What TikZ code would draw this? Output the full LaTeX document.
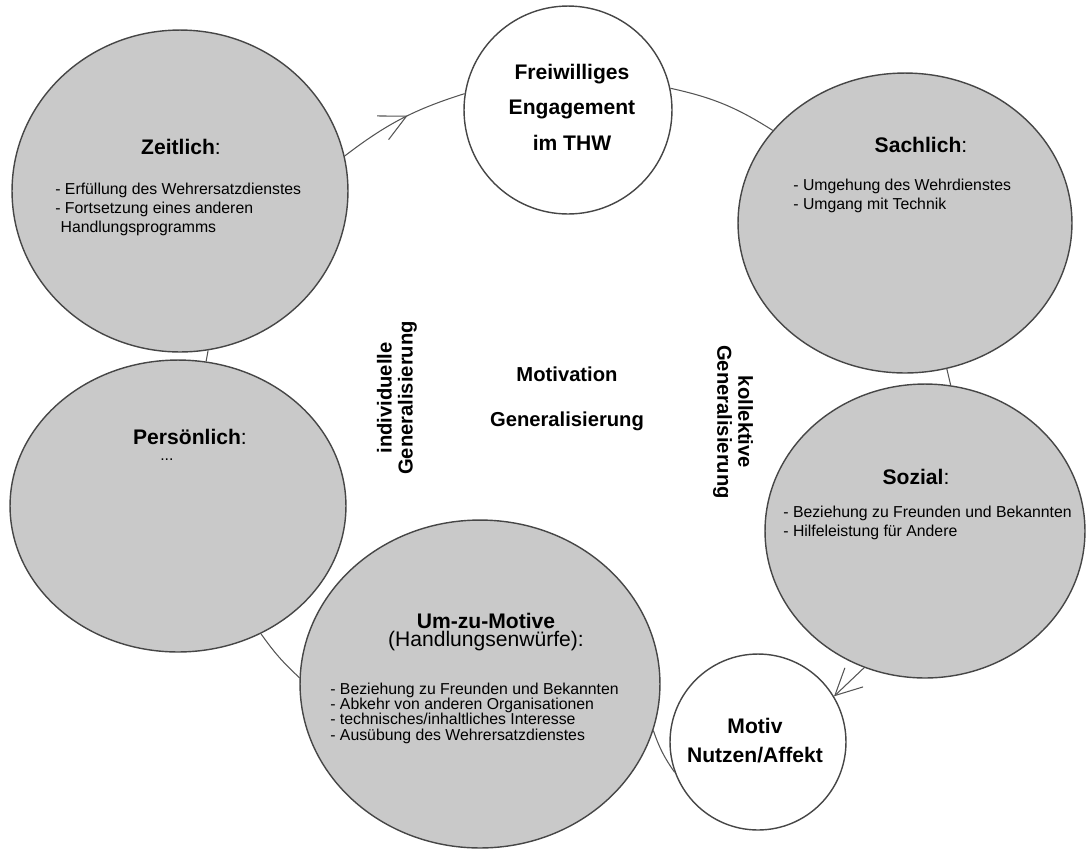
\documentclass[tikz,border=0pt]{standalone}
\usepackage{fontspec}
\setmainfont{Liberation Sans}
\usepackage{xcolor}
\usetikzlibrary{shapes,arrows.meta,positioning,calc,decorations.markings}
\definecolor{bubblegray}{RGB}{201,201,201}
\definecolor{edgegray}{RGB}{70,70,70}
\definecolor{ringgray}{RGB}{85,85,85}

\tikzset{
  bubble/.style={ellipse, draw=edgegray, fill=bubblegray, line width=0.8pt, inner sep=0pt},
  disc/.style={circle, draw=edgegray, fill=white, line width=0.8pt, inner sep=0pt},
  ring/.style={draw=ringgray, line width=0.6pt},
  barb/.style={-{Straight Barb[length=15pt,width=15pt]}},
  head/.style={font=\fontsize{12}{14}\selectfont, align=center},
  items/.style={font=\fontsize{9}{10.8}\selectfont, align=left, anchor=west, inner sep=0pt},
  bigtext/.style={font=\fontsize{11.5}{12}\selectfont\bfseries, align=center}
}

\begin{document}
\begin{tikzpicture}[x=0.02cm, y=-0.02cm]
    \useasboundingbox (0,0) rectangle (1086,850);

    % Grey bubbles
    \node[bubble, minimum width=6.72cm, minimum height=6.44cm] (zeit) at (180,191) {};
    \node[bubble, minimum width=6.68cm, minimum height=6.00cm] (sach) at (905,223) {};
    \node[bubble, minimum width=6.40cm, minimum height=5.88cm] (soz)  at (925,531) {};
    \node[bubble, minimum width=6.72cm, minimum height=5.84cm] (pers) at (178,506) {};
    \node[bubble, minimum width=7.20cm, minimum height=6.56cm] (umzu) at (480,684) {};
    % White circles
    \node[disc, minimum size=4.16cm] (frei)  at (568,110) {};
    \node[disc, minimum size=3.52cm] (motiv) at (758,742) {};

    % Ring between the bubbles
    \draw[ring, postaction={decorate},
          decoration={markings, mark=at position 0.55 with {\arrow{Straight Barb[length=15pt,width=15pt]}}}]
        (zeit.12) to[bend left=10] (frei.171);
    \draw[ring] (frei.12) to[bend left=10] (sach.145);
    \draw[ring] (sach.286) -- (soz.80);
    \draw[ring, barb] (soz.246) -- (motiv.31);
    \draw[ring] (motiv.200) to[bend left=8] (umzu.-15);
    \draw[ring] (umzu.178) to[bend left=6] (pers.303);
    \draw[ring] (pers.79) -- (zeit.280);

    % Texts in the circles
    \node[head, font=\fontsize{12}{20.2}\selectfont\bfseries] (freitxt) at (572,107)
        {Freiwilliges\\Engagement\\im THW};
    \node[head, font=\fontsize{12}{16.5}\selectfont\bfseries] (motivtxt) at (755,741)
        {Motiv\\Nutzen/Affekt};

    % Zeitlich
    \node[head] (zeitkopf) at (181,147) {\textbf{Zeitlich}:};
    \node[items] (zeitliste) at (55,209)
        {- Erfüllung des Wehrersatzdienstes\\
         - Fortsetzung eines anderen\\
         \hspace*{3pt}Handlungsprogramms};

    % Sachlich
    \node[head] (sachkopf) at (921,145) {\textbf{Sachlich}:};
    \node[items] (sachliste) at (793,196)
        {- Umgehung des Wehrdienstes\\
         - Umgang mit Technik};

    % Sozial
    \node[head] (sozkopf) at (916,477) {\textbf{Sozial}:};
    \node[items] (sozliste) at (783,523)
        {- Beziehung zu Freunden und Bekannten\\
         - Hilfeleistung für Andere};

    % Persoenlich
    \node[head] (perskopf) at (190,437) {\textbf{Persönlich}:};
    \node[items] (persliste) at (160,460) {...};

    % Um-zu-Motive
    \node[head, font=\fontsize{12}{10.5}\selectfont] (umzukopf) at (486,632)
        {\textbf{Um-zu-Motive}\\(Handlungsenwürfe):};
    \node[items, font=\fontsize{9}{8.7}\selectfont] (umzuliste) at (330,713)
        {- Beziehung zu Freunden und Bekannten\\
         - Abkehr von anderen Organisationen\\
         - technisches/inhaltliches Interesse\\
         - Ausübung des Wehrersatzdienstes};

    % Middle
    \node[bigtext, font=\fontsize{11.5}{25.6}\selectfont\bfseries] (mitte) at (567,399)
        {Motivation\\Generalisierung};
    \node[bigtext, rotate=90] (indiv) at (397,398) {individuelle\\Generalisierung};
    \node[bigtext, rotate=-90] (kollek) at (733,422) {kollektive\\Generalisierung};
\end{tikzpicture}
\end{document}
